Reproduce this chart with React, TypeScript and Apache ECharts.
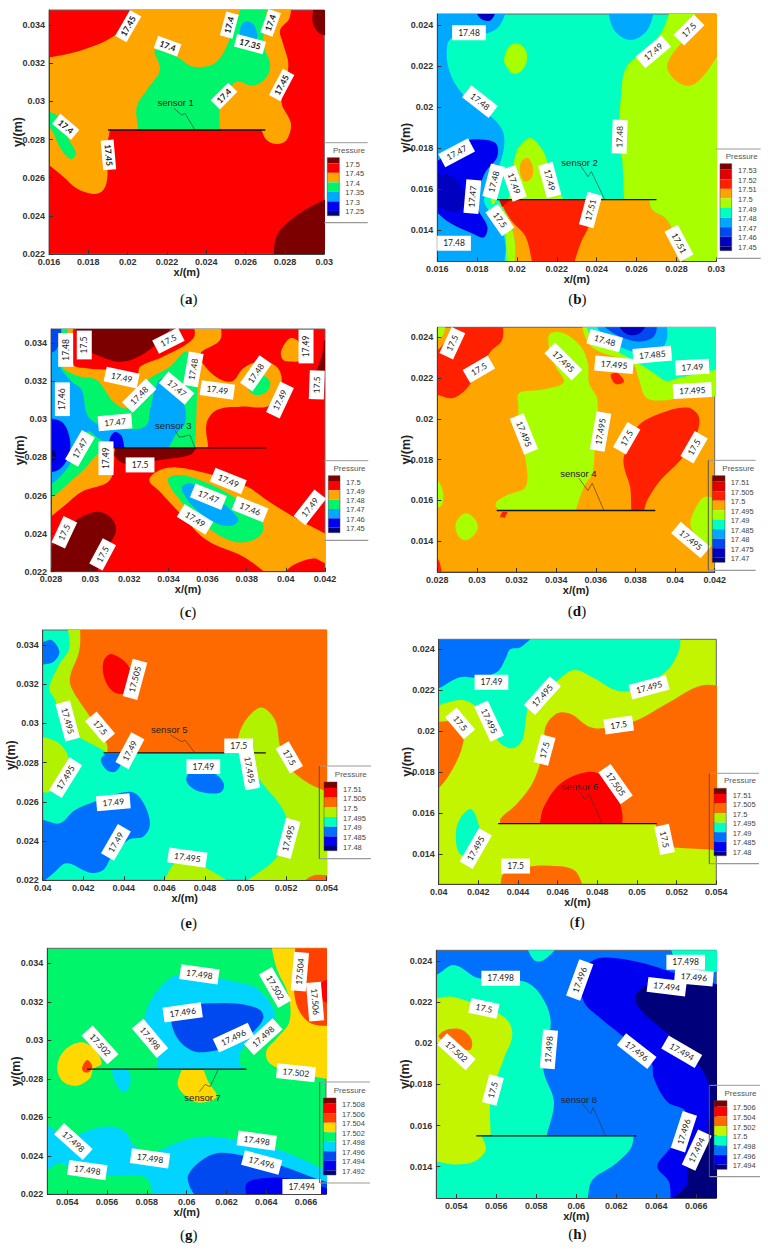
import React, { useEffect, useRef } from "react";
import * as echarts from "echarts";

// ---------- contour levels (colours by name) ----------
const COLORS: Record<string, string> = {
  dr: "#7d0000", d2: "#e00000", red: "#ff0000", rd2: "#ff2000", or: "#ffa500", or2: "#ff6a00", rd3: "#ff4000",
  yel: "#ffd800", lime: "#a8ff00", lim2: "#b0f200", lim3: "#c4f500", grn: "#00f56a", aq: "#00ffc0", cy: "#00d4ff",
  sky: "#00a8ff", bl2: "#0070ff", bl3: "#0048f0", blue: "#0000f0", dk: "#0000c0", navy: "#00007a",
};

// ---------- data: every vertex is [x mm, y mm, sharp-corner flag] ----------
const regionsA: any[] = [
  ["dr", [[27.4,21.5,1],[27.6,23.0],[28.7,24.1],[30.5,25.1,1],[30.5,21.5,1]]],
  ["dr", [[29.5,35.2,1],[29.4,34.2],[29.7,33.6],[30.3,33.4,1],[30.3,35.2,1]]],
  ["or", [[20.3,35.3,1],[28.34,35.3,1],[28.22,34.35],[27.75,33.74],[27.9,33.04],[28.17,31.99],[28.0,30.77],[27.83,29.9],[28.3,28.85],[28.08,27.97],[27.58,27.76],[27.07,27.97],[26.8,28.5,1],[19.1,28.5,1],[18.93,27.45],[18.97,26.05],[18.76,25.35],[18.25,25.14],[17.4,25.44],[16.73,26.05],[16,26.66],[15.5,27.1,1],[15.5,32.2,1],[16,32.3],[17.4,32.6],[19.1,33.3],[19.95,34.09]]],
  ["grn", [[21.39,32.69],[21.64,31.64],[20.97,30.59],[20.46,29.72],[20.54,28.5,1],[24.69,28.5,1],[24.69,29.72],[25.03,30.42],[25.54,31.03],[26.39,30.82],[27.07,31.29],[27.24,31.99],[26.9,33.04],[27.15,35.3,1],[25.88,35.3,1],[25.37,33.74],[24.53,32.08],[23.34,31.82],[22.49,32.34]]],
  ["sky", [[25.71,33.74],[25.88,34.12],[26.19,34.17],[26.47,33.91],[26.56,33.3],[25.75,33.3]]],
  ["grn", [[15.6,29.5,1],[16,29.46],[16.47,29.2],[16.98,28.06],[17.37,27.27],[17.1,26.98],[16.64,27.45],[16,28.67],[15.6,28.5,1]]],
];
const labelsA: any[] = [
  [20.03,33.95,"17.45",60],[22.03,32.9,"17.4",-20],[25.17,34.0,"17.4",75],[27.27,34.12,"17.4",70],[26.22,33.0,"17.35",-15],
  [27.83,30.86,"17.45",62],[24.9,30.28,"17.4",45],[16.85,28.67,"17.4",-40],[19.02,27.19,"17.45",-85],
];
const regionsB: any[] = [
  ["sky", [[19.6,25,1],[19.01,23.84],[18.0,23.51],[16.84,23.43],[16.5,23.03],[16.59,21.81],[17.25,20.67],[18.51,19.7],[19.26,18.89],[19.35,18.07],[19.09,17.1],[18.68,15.96],[18.34,15.48],[18.68,14.83],[19.18,14.18],[19.43,13.2],[19.35,12.4,1],[15.5,12.4,1],[15.5,25,1]]],
  ["sky", [[24.5,25,1],[24.87,23.76],[25.7,23.27],[26.54,23.76],[26.96,25,1]]],
  ["dk", [[17.76,25,1],[18.17,24.32],[18.68,24.24],[19.09,25,1]]],
  ["blue", [[16.42,17.67],[17.34,18.32],[18.17,18.43],[18.93,18.24],[19.01,17.59],[18.43,16.86],[18.09,15.96],[18.0,15.15],[18.51,14.18],[18.34,13.66],[17.76,13.85],[16.67,14.34],[15.83,15,1],[15.83,17.26,1]]],
  ["dk", [[15.8,16.8,1],[16.8,16.6],[17.4,15.6],[17.0,14.9],[15.8,15.2,1]]],
  ["lime", [[20.63,18.5],[20.01,17.91],[19.76,16.61],[19.76,16.13],[19.55,15.5,1],[22.36,15.5,1],[21.77,16.45],[21.44,17.59],[21.1,18.16]]],
  ["or", [[20.52,17.54],[20.77,17.18],[20.77,16.61],[20.43,16.37],[20.18,16.71],[20.18,17.28]]],
  ["lime", [[19.35,22.38],[19.6,22.94],[20.01,23.11],[20.43,22.78],[20.48,22.21],[20.18,21.73],[19.76,21.65],[19.43,22.05]]],
  ["lime", [[27.79,25,1],[27.21,23.59],[26.2,22.62],[25.45,21.89],[25.23,20.67],[25.12,18.72],[25.28,17.43],[25.37,15.5,1],[26.62,15.5,1],[26.79,14.99],[27.46,14.58],[27.87,13.85],[28.46,12.4,1],[30.5,12.4,1],[30.5,25,1]]],
  ["or", [[29.13,25,1],[28.46,23.43],[27.71,22.46],[27.54,21.89],[28.04,21.24],[28.71,21.05],[29.38,21.56],[30.05,22.46],[30.5,23,1],[30.5,25,1]]],
  ["lime", [[19.0,15.5,1],[19.26,14.83],[19.43,13.85],[19.48,12.4,1],[19.95,12.4,1],[19.88,13.53],[19.6,14.5],[19.3,15.0]]],
  ["or", [[19.09,15.5,1],[26.62,15.5,1],[26.79,14.99],[27.46,14.58],[27.87,13.85],[28.46,12.4,1],[19.9,12.4,1],[19.88,13.53],[19.6,14.5]]],
  ["rd2", [[19.21,15.5,1],[23.39,15.5,1],[23.69,14.5],[23.19,13.37],[22.86,12.4,1],[20.77,12.4,1],[20.43,13.69],[19.76,14.42],[19.34,15.07]]],
  ["d2", [[19.09,15.5,1],[19.68,15.5,1],[19.26,15.14,1]]],
  ["aq", [[18.6,15.5],[18.8,15.85],[19.0,15.7],[19.0,15.1],[18.75,15.05]]],
  ["lime", [[18.68,15.45],[18.8,15.6],[18.92,15.45],[18.8,15.25]]],
];
const labelsB: any[] = [
  [17.59,23.63,"17.48",0],[18.14,20.27,"17.48",-38],[16.97,17.78,"17.47",28],[18.84,16.37,"17.48",75],[19.85,16.29,"17.49",-70],
  [21.64,16.45,"17.49",-75],[17.76,15.64,"17.47",85],[19.14,14.5,"17.5",-55],[16.84,13.37,"17.48",0],[23.69,14.99,"17.51",75],
  [25.15,18.56,"17.48",88],[26.84,22.7,"17.49",40],[28.63,23.76,"17.5",45],[28.13,13.37,"17.51",-62],
];
const regionsC: any[] = [
  ["or", [[27.5,24.5,1],[28.63,25.42],[29.57,26.2],[31.01,26.82],[31.27,28.5,1],[36.04,28.5,1],[35.95,29.8],[36.47,30.5],[37.66,30.67],[39.02,30.67],[39.53,31.2],[39.79,32.07],[39.53,32.77],[38.68,33.04],[37.83,32.69],[37.23,31.99],[36.3,32.34],[35.61,33.39],[36.64,34.18],[36.64,35.2,1],[35.27,35.2,1],[35.27,34.26],[33.74,33.3],[32.55,32.77],[32.38,32.34],[31.01,32.6],[29.82,32.69],[29.14,32.9],[29.14,35.2,1],[27.5,35.2,1]]],
  ["grn", [[28.89,35.2,1],[28.72,33.12],[28.63,32.69],[29.48,32.25],[30.33,32.07],[31.19,30.93],[31.87,30.58],[32.38,31.37],[33.06,32.16],[34.08,32.77],[34.93,33.56],[35.44,32.42],[35.44,30.67],[35.36,28.5,1],[30.93,28.5,1],[30.42,28.22],[29.74,27.43],[28.89,26.64],[27.95,25.85],[27.5,25.8,1],[27.5,35.2,1]]],
  ["sky", [[28.55,35.2,1],[28.46,32.86],[29.06,31.99],[29.57,31.55],[29.86,30.23],[30.5,29.71],[32.21,29.48],[32.89,29.71],[33.06,30.5],[33.31,31.55],[33.65,32.16],[34.25,31.72],[34.81,30.76],[34.85,29.8],[34.42,29.27],[34,28.5,1],[31.27,28.5,1],[30.84,28.75],[30.42,29.01],[29.86,29.36],[29.31,28.31],[28.8,27.38],[27.95,26.55],[27.5,26.5,1],[27.5,35.2,1]]],
  ["blue", [[27.5,30.1,1],[28,30.06],[28.63,29.8],[28.97,28.92],[28.89,28.04],[28.37,27.34],[27.5,27.2,1]]],
  ["navy", [[27.5,28.7,1],[28.2,28.3],[28.2,27.9],[27.5,27.5,1]]],
  ["blue", [[30.98,28.5,1],[31.01,29.01],[31.27,29.34],[31.61,29.13],[31.75,28.5,1]]],
  ["bl3", [[27.5,35.2,1],[28.5,35.2,1],[28.5,34.3],[28.2,33.6],[27.5,33.5,1]]],
  ["dr", [[29.23,35.2,1],[34.49,35.2,1],[33.14,33.74],[31.7,33.04],[30.33,33.39],[29.48,33.91]]],
  ["dr", [[31.27,28.5,1],[35.44,28.5,1],[35.1,28.13],[33.57,27.87],[31.87,27.66],[31.27,28.04]]],
  ["dr", [[27.95,23.28],[29.06,24.54],[30.33,25.15],[31.1,24.8],[31.32,24.1],[30.67,22.96],[30.33,21.9,1],[27.5,21.9,1],[27.5,23.2,1]]],
  ["dr", [[41.52,32.42,1],[41.85,33.4],[42.0,34.2],[42.5,34.3,1],[42.5,32.4,1]]],
  ["or", [[33.02,26.82],[33.57,27.34],[34.42,27.48],[35.95,27.17],[38.0,26.47],[39.02,25.77],[40.38,24.89],[42,24.01],[42.5,23.7,1],[42.5,22.3,1],[42,22.44],[41.4,22.7],[40.38,22.35],[39.87,21.9,1],[39.02,21.9,1],[37.83,22.79],[35.95,23.66],[34.59,25.07],[33.57,26.2]]],
  ["grn", [[33.96,26.82],[34.42,27.08],[35.61,26.82],[37.32,25.94],[38.68,24.8],[38.85,24.19],[38.34,23.66],[37.32,23.58],[35.95,24.37],[34.59,25.77]]],
  ["sky", [[34.68,26.38],[35.11,26.64],[35.95,26.2],[36.98,25.42],[37.57,24.72],[37.15,24.4],[36.3,24.63],[35.27,25.42]]],
  ["or", [[39.75,33.56],[40.21,34.26],[40.64,34.08],[40.72,33.12],[40.21,33.04],[39.87,33.12]]],
  ["grn", [[38.68,32.34],[39.19,31.99],[39.02,31.46],[38.42,31.29],[38.08,31.64]]],
];
const labelsC: any[] = [
  [28.75,33.65,"17.48",90],[29.7,33.91,"17.5",90],[34,34.14,"17.5",27],[31.61,32.2,"17.49",-12],[32.51,31.25,"17.48",45],
  [34.42,31.64,"17.47",-40],[35.27,32.63,"17.48",80],[36.5,31.55,"17.49",-8],[38.47,32.42,"17.48",55],[39.7,31.02,"17.49",65],
  [41.03,33.83,"17.49",90],[41.58,31.81,"17.5",88],[28.58,31.06,"17.46",90],[31.27,29.85,"17.47",5],[29.48,28.48,"17.47",60],
  [30.81,27.96,"17.49",90],[32.55,27.61,"17.5",0],[37.06,26.77,"17.49",-22],[36.04,25.94,"17.47",-22],[38.17,25.29,"17.46",-22],
  [35.36,24.75,"17.49",-32],[41.23,25.38,"17.49",52],[28.68,24.07,"17.5",65],[30.64,22.91,"17.5",62],
];
const regionsD: any[] = [
  ["rd2", [[29.01,25,1],[31.28,25,1],[31.28,23.89],[30.69,23.31],[30.02,22.25],[29.43,21.43],[28.76,21.02],[28,21.18],[27.5,21.2,1],[27.5,23.5,1],[28,23.39],[28.5,23.97]]],
  ["lime", [[32.12,21.26],[33.22,21.43],[34.39,21.79],[33.97,22.57],[33.64,23.48],[33.69,24.18],[34.39,24.21],[35.24,23.56],[35.6,22.74],[35.66,21.75],[36.08,20.93],[35.94,18.48],[35.83,17.33],[35.4,16.67],[34.98,15.5,1],[31.11,15.5,1],[30.94,15.85],[31.53,16.26],[32.46,16.67],[32.46,17.98],[32.12,19.62],[32.09,20.61]]],
  ["lime", [[35.2,25,1],[35.57,23.8],[36.16,23.31],[37.84,22.74],[38.18,21.92],[38.52,21.07],[39.27,20.9],[40.45,21.07],[42.5,21.1,1],[42.5,25,1]]],
  ["aq", [[35.4,25,1],[35.82,23.97],[37.09,23.31],[38.26,22.66],[38.94,22.25],[39.53,21.87],[40.12,22.0],[42.5,22.5,1],[42.5,25,1]]],
  ["sky", [[35.82,25,1],[36.41,24.05],[37.84,23.31],[39.02,23.23],[39.58,23.89],[39.53,25,1]]],
  ["bl3", [[36,25,1],[36.6,24.4],[37.4,23.97],[38.2,23.8],[38.88,24],[39.07,24.4],[39,25,1]]],
  ["dk", [[36.9,25,1],[37.5,24.2],[38.2,24.2],[38.8,25,1]]],
  ["rd2", [[37.42,18.15],[38.1,19.62],[39.27,20.28],[40.62,20.56],[41.2,20.11],[41.04,19.13],[40.28,17.98],[39.27,17],[38.6,16.02],[38.43,15.5,1],[37.79,15.5,1],[37.73,16.67],[37.46,17.49]]],
  ["rd2", [[36.75,22.16],[37.08,22.25],[37.42,21.84],[37,21.72]]],
  ["rd2", [[31.16,15.2,1],[31.28,15.44,1],[31.56,15.44,1],[31.4,15.15,1]]],
  ["rd2", [[27.5,13.1,1],[28,13.15],[28.25,12.4,1],[27.5,12.4,1]]],
  ["lime", [[27.5,17,1],[28,17],[28.3,16.3],[28.15,15.7],[27.5,15.7,1]]],
  ["lime", [[29.43,15.36],[29.93,15.03],[30.02,14.54],[29.51,14.05],[29.09,14.21],[28.93,14.87]]],
  ["lime", [[40.79,15.03],[41.29,16.02],[41.71,16.18],[42.5,15.7,1],[42.5,13.6,1],[41.46,13.89],[40.87,14.54]]],
  ["lime", [[27.5,25,1],[28.5,25,1],[28.2,24],[27.5,23.9,1]]],
];
const labelsD: any[] = [
  [28.76,23.72,"17.5",65],[30.1,22.44,"17.5",30],[34.36,22.82,"17.495",-45],[36.45,23.85,"17.48",-15],[36.92,22.66,"17.495",-5],
  [38.85,23.15,"17.485",5],[40.87,22.54,"17.49",3],[40.87,21.39,"17.495",3],[32.37,19.26,"17.495",-68],[36.24,19.38,"17.495",80],
  [37.56,19.05,"17.5",60],[40.96,18.61,"17.5",60],[40.79,14.05,"17.495",-40],
];
const regionsE: any[] = [
  ["lim2", [[41.18,35.2,1],[54.5,35.2,1],[54.5,21.9,1],[49.97,21.9,1],[51.62,23.29],[52.03,25.16],[50.71,27.12],[49.81,28.5,1],[43.19,28.5,1],[42.83,28.73],[41.76,29.33],[41.02,30.0],[40.61,31.2],[40.33,31.79],[40.85,33.07],[41.31,33.83]]],
  ["lim2", [[39.5,29.41,1],[40.69,29.07],[41.27,28.22],[40.77,27.12],[40.36,26.52],[39.5,26.55,1]]],
  ["lim2", [[45.95,21.9,1],[46.44,22.78],[47.1,23.07],[48.08,22.61],[49.23,21.9,1]]],
  ["or2", [[41.84,35.2,1],[54.5,35.2,1],[54.5,26.3,1],[54,26.52],[52.85,27.12],[51.86,28.14],[51.67,28.99],[51.45,30.18],[50.8,30.82],[50.14,30.35],[49.69,29.5],[49.6,28.5,1],[43.19,28.5,1],[43.15,28.99],[42.33,30.35],[41.43,31.79],[41.35,32.39],[41.81,33.75]]],
  ["or2", [[52.77,21.9,1],[53.42,22.27],[54.5,22.2,1],[54.5,21.9,1]]],
  ["red", [[42.99,33.15],[43.4,33.54],[44.3,32.81],[44.22,31.62],[43.57,31.57],[43.07,32.22]]],
  ["bl2", [[39.5,34.2,1],[40,34.17],[40.44,34.26],[40.82,33.66],[40.53,33.15],[40,33.01],[39.5,33,1]]],
  ["bl2", [[42.86,28.14],[43.07,28.44,1],[44.0,28.44,1],[43.89,27.97],[43.57,27.54],[43.15,27.63]]],
  ["bl2", [[47.1,27.29],[47.59,27.8],[48.58,27.37],[48.94,26.86],[48.74,26.47],[47.76,26.52],[47.18,26.88]]],
  ["bl2", [[39.5,25.08,1],[40,25.08],[40.85,24.91],[41.59,25.59],[42.66,26.05],[44.3,26.52],[44.88,26.1],[45.29,24.91],[44.96,24.23],[44.22,24.06],[43.4,23.21],[42.99,22.53],[42.33,22.39],[41.18,22.87],[40.53,22.36],[40,21.9,1],[39.5,21.9,1]]],
];
const labelsE: any[] = [
  [44.55,32.25,"17.505",75],[41.23,30.13,"17.495",-75],[42.83,29.8,"17.5",-50],[44.3,28.61,"17.49",62],[41.13,27.24,"17.495",58],
  [49.66,28.85,"17.5",0],[50.19,27.63,"17.495",-80],[52.16,28.27,"17.5",-60],[47.92,27.8,"17.49",0],[43.48,25.98,"17.49",5],
  [43.61,23.94,"17.49",60],[47.13,23.16,"17.495",-8],[52.11,24.14,"17.495",75],
];
const regionsF: any[] = [
  ["aq", [[39.5,21.1,1],[41.03,21.53],[41.78,21.28],[42.62,20.07],[43.13,19.41],[43.71,19.17],[44.22,19.58],[44.39,20.55],[44.64,21.53],[45.82,22.34],[46.82,22.99],[47.83,22.59],[49.01,21.98],[50.18,22.1],[51.53,22.99],[52.12,23.97],[52.2,25,1],[39.5,25,1]]],
  ["bl2", [[39.5,22.0,1],[40,22.1],[41.03,22.63],[41.95,22.63],[42.96,22.91],[43.38,23.56],[43.6,24],[44.13,24.1],[45.14,25,1],[39.5,25,1]]],
  ["aq", [[40.86,14.86],[41.03,15.67],[41.61,16.21],[41.95,15.67],[42.03,15.05],[41.36,13.97],[41.03,14.05]]],
  ["or2", [[43.09,15.5,1],[43.13,15.76],[43.97,16.49],[44.81,17.63],[45.31,19.25],[45.39,20.23],[45.98,20.88],[46.66,20.85],[47.66,20.2],[48.67,20.2],[50.02,20.55],[51.53,21.37],[53.21,22.23],[54.5,22.2,1],[54.5,14.0,1],[54,14.2],[51.87,14.34],[51.11,14.46],[50.94,15.5,1]]],
  ["or2", [[39.5,20.5,1],[40,20.47],[41.03,20.47],[41.28,19.74],[40.86,18.44],[40,17.22],[39.5,17.1,1]]],
  ["or2", [[43.09,12.4,1],[43.29,13.07],[44.3,13.37],[45.65,13.45],[46.82,13.24],[47.33,12.4,1]]],
  ["red", [[45.09,15.5,1],[45.31,16.33],[46.15,17.46],[47.5,18.02],[48.34,17.79],[49.01,16.81],[49.26,16],[49.26,15.5,1]]],
];
const labelsF: any[] = [
  [42.66,22.39,"17.49",0],[45.23,21.74,"17.495",48],[50.61,22.15,"17.495",15],[41.08,20.39,"17.5",-50],[42.54,20.5,"17.495",-65],
  [49.08,20.31,"17.5",8],[45.34,19.09,"17.5",75],[48.92,17.43,"17.505",-55],[51.39,14.73,"17.5",-78],[41.87,14.29,"17.495",60],[43.88,13.43,"17.5",0],
];
const regionsG: any[] = [
  ["cy", [[57.91,31.32],[58.49,32.53],[59.5,33.39],[61.01,33.31],[62.35,33.05],[63.52,32.7],[64.39,31.58],[64.27,30.8],[63.52,30.28],[62.71,29.41],[62.65,28.81],[62.93,28.5,1],[58.49,28.5,1],[58.49,29.32],[57.99,30.36]]],
  ["bl3", [[59.28,31.4],[60,31.75],[61.01,31.92],[62.68,31.89],[63.69,31.58],[63.85,31.14],[63.35,30.45],[62.35,29.76],[60.67,29.38],[59.83,29.76],[59.33,30.53]]],
  ["yel", [[64.19,35.2,1],[64.52,33.74],[65.11,32.35],[65.16,30.97],[64.52,30.1],[64.02,29.5],[64.1,28.89],[64.86,28.46],[67.5,27.9,1],[67.5,35.2,1]]],
  ["rd3", [[65.49,35.2,1],[67.5,35.2,1],[67.5,30.75,1],[66.36,30.83],[65.78,31.32],[65.44,32.18],[65.39,33.74]]],
  ["red", [[66.8,33.0],[67.5,33.2,1],[67.5,32.1,1],[66.9,32.0]]],
  ["yel", [[53.5,28.55],[53.8,29.41],[54.64,29.9],[55.31,29.6],[55.73,28.81],[55.31,28.5],[55.14,28.03],[54.47,27.64],[53.8,27.85]]],
  ["rd3", [[54.76,28.63],[55.01,28.98],[55.26,28.63],[55.06,28.34],[54.81,28.38]]],
  ["cy", [[56.23,28.46,1],[57.07,28.46,1],[57.19,27.85],[56.9,27.3],[56.48,27.67]]],
  ["yel", [[59.75,28.5,1],[60.84,28.5,1],[61.09,27.85],[61.51,27.07],[60.67,26.76],[60,27.07],[59.55,27.68]]],
  ["cy", [[52.5,25.7,1],[53,25.6],[53.97,24.91],[55.14,25.34],[56.15,25.52],[56.9,25.26],[57.4,24.48],[58.33,24.2],[59.67,24.74],[61,25],[62.85,24.74],[64.86,24.22],[67.5,23.0,1],[67.5,21.9,1],[58.33,21.9,1],[57.99,22.83],[56.99,23],[54.81,23],[53.64,23.61],[53,23.26],[52.5,23.1,1]]],
  ["bl3", [[60.08,23],[60.67,23.7],[61.51,24.13],[62.68,24.04],[64.86,23.44],[66.45,22.83],[67.5,22.5,1],[67.5,21.9,1],[60.42,21.9,1],[60.13,22.48]]],
  ["blue", [[62.98,21.9,1],[63.02,22.57],[63.85,22.83],[65.03,22.83],[67.5,22.2,1],[67.5,21.9,1]]],
];
const labelsG: any[] = [
  [60.64,33.43,"17.498",-8],[64.44,32.74,"17.502",-60],[65.69,33.57,"17.504",85],[66.45,32.01,"17.506",-85],[59.8,31.45,"17.496",8],
  [58.16,30.1,"17.498",-50],[62.35,30.14,"17.496",25],[63.85,30.19,"17.498",42],[55.65,29.76,"17.502",-48],[65.49,28.32,"17.502",-6],
  [54.31,24.74,"17.498",-42],[55.01,23.26,"17.498",-8],[58.16,23.87,"17.498",-8],[63.52,24.79,"17.498",-8],[63.77,23.65,"17.496",-15],[65.78,22.4,"17.494",0],
];
const regionsH: any[] = [
  ["aq", [[52.5,23.2,1],[53,23.32],[53.88,23.81],[55.13,23.16],[57.38,23],[58.22,22.35],[58.72,21.05],[58.35,18.78],[58.88,17.16],[58.52,15.5,1],[62.88,15.5,1],[62.72,14.89],[61.88,14.08],[60.8,13.35],[60.55,12.4,1],[52.5,12.4,1]]],
  ["aq", [[57.38,25,1],[57.88,24.05],[58.38,24.05],[59.38,25,1]]],
  ["aq", [[64.63,25,1],[67.5,25,1],[67.5,23.5,1],[66.4,23.5],[65.5,23.9],[64.9,24.2]]],
  ["lim3", [[52.5,22.1,1],[53,22.18],[53.72,22.27],[55.05,21.86],[56.47,21.21],[56.8,20.4],[56.38,19.27],[55.72,17.32],[55.72,15.5,1],[55.27,15.5,1],[55.47,14.81],[54.88,14.24],[53.88,14.11],[53,14.24],[52.5,14.2,1]]],
  ["or2", [[53.13,20.4],[53.63,20.69],[54.3,20.65],[54.77,20.16],[54.68,19.67],[53.97,19.9],[53.22,20.2]]],
  ["blue", [[60.22,23.4],[60.88,24.05],[61.72,24.16],[63.38,23.89],[64.72,23.48],[67.5,22.75,1],[67.5,12.4,1],[64.72,12.4,1],[64.63,13.27],[64.05,14],[64.55,14.73],[65.22,15.38],[65.47,16.67],[64.55,17.16],[63.88,18.29],[63.72,19.1],[62.05,20.56],[61.22,21.21],[60.38,22.02]]],
  ["navy", [[62.97,22.35],[63.55,22.83],[64.72,23.08],[67.5,22.75,1],[67.5,12.4,1],[64.8,12.4,1],[65.55,13.19],[65.58,14.08],[66.38,14.89],[66.63,16.5],[66.63,17.97],[65.97,19.1],[64.55,20.48],[63.55,21.29],[63.05,21.86]]],
];
const labelsH: any[] = [
  [65.47,23.94,"17.498",0],[65.88,23.21,"17.496",-5],[64.52,22.75,"17.494",-7],[60.17,23.08,"17.496",70],[56.22,23.16,"17.498",0],
  [55.38,21.7,"17.5",-12],[54,19.59,"17.502",-42],[58.63,19.7,"17.498",85],[55.83,17.73,"17.5",75],[63.02,19.62,"17.496",-38],
  [65.27,19.59,"17.494",-30],[65.38,15.7,"17.496",72],[66.02,14.81,"17.494",65],
];

// sensor bars, leader lines and names
const sensorBars = [[[19,28.5],[27,28.5]],[[19,15.5],[27,15.5]],[[31,28.5],[39,28.5]],[[31,15.5],[39,15.5]],[[43,28.5],[51,28.5]],[[43,15.5],[51,15.5]],[[55,28.5],[63,28.5]],[[55,15.5],[63,15.5]]];
const leaders = [
  [[22.36,29.63],[22.75,29.28],[22.92,29.37],[23.42,28.5]],
  [[23.19,17.15],[23.56,16.61],[23.73,16.86],[24.4,15.5]],
  [[34.34,29.41],[34.56,29.06],[35.1,29.18],[35.36,28.5]],
  [[35.15,17.08],[35.6,16.48],[35.82,16.84],[36.41,15.5]],
  [[46.31,29.41],[46.85,29.07],[47.02,29.15],[47.51,28.5]],
  [[47.08,17.06],[47.38,16.68],[47.58,16.94],[48.25,15.5]],
  [[60.64,27.33],[60.93,27.71],[61.18,27.59],[61.59,28.5]],
  [[60.3,17.08],[60.72,16.56],[60.83,16.88],[61.47,15.5]],
];
const sensorNames = [[22.44,29.93,"sensor 1"],[23.14,17.31,"sensor 2"],[34.25,29.67,"sensor 3"],[35.12,17.33,"sensor 4"],[46.24,29.67,"sensor 5"],[47.13,17.33,"sensor 6"],[60.8,27.02,"sensor 7"],[60.13,17.29,"sensor 8"]];

// tick values
const yTicksTop = [0.022,0.024,0.026,0.028,0.03,0.032,0.034];
const yTicksBottom = [0.014,0.016,0.018,0.02,0.022,0.024];
const xTicks1 = [0.016,0.018,0.02,0.022,0.024,0.026,0.028,0.03];
const xTicks2 = [0.028,0.03,0.032,0.034,0.036,0.038,0.04,0.042];
const xTicks3 = [0.04,0.042,0.044,0.046,0.048,0.05,0.052,0.054];
const xTicks4 = [0.054,0.056,0.058,0.06,0.062,0.064,0.066];

// colour-bar labels and colours
const legendA = ["17.5","17.45","17.4","17.35","17.3","17.25"];
const legendB = ["17.53","17.52","17.51","17.5","17.49","17.48","17.47","17.46","17.45"];
const legendC = ["17.5","17.49","17.48","17.47","17.46","17.45"];
const legendD = ["17.51","17.505","17.5","17.495","17.49","17.485","17.48","17.475","17.47"];
const legendE = ["17.51","17.505","17.5","17.495","17.49","17.485","17.48"];
const legendG = ["17.508","17.506","17.504","17.502","17.498","17.496","17.494","17.492"];
const legendH = ["17.506","17.504","17.502","17.5","17.498","17.496","17.494"];
const swA = ["dr","red","or","grn","sky","blue","navy"];
const swB = ["dr","d2","rd2","or","lime","aq","sky","bl3","dk","navy"];
const swC = ["dr","red","or","grn","sky","blue","navy"];
const swE = ["dr","red","or2","lim2","aq","bl2","blue","navy"];
const swG = ["dr","red","rd3","yel","grn","cy","bl3","blue","navy"];
const swH = ["dr","red","or2","lim3","aq","bl2","blue","navy"];

// ---------- layout (page pixels) ----------
const panels: any[] = [
  { tag:"a", L:49, R:324.3, T:10, B:254, x:[0.016,0.03], y:[0.022,0.03479], xt:xTicks1, yt:yTicksTop, base:"red", reg:regionsA, lab:labelsA, bold:true,
    leg:{ bx:[324.3,367.7], by:[142.7,222.7], side:false, tx:349, ty:150.7, sx:[327.3,339.3], sy:[157.7,215.7], lx:345.3, ly:164.3, st:9.53, labels:legendA, sw:swA }, cap:[188.7,299] },
  { tag:"b", L:437.3, R:716.3, T:14, B:261.3, x:[0.016,0.03], y:[0.01249,0.02454], xt:xTicks1, yt:yTicksBottom, base:"aq", reg:regionsB, lab:labelsB,
    leg:{ bx:[715.7,760.7], by:[149,258.3], side:false, tx:741.7, ty:156.7, sx:[720,731.7], sy:[163.7,250.7], lx:738, ly:170.7, st:9.58, labels:legendB, sw:swB }, cap:[577.3,299] },
  { tag:"c", L:51, R:325, T:329, B:571.7, x:[0.028,0.042], y:[0.022,0.03475], xt:xTicks2, yt:yTicksTop, base:"red", reg:regionsC, lab:labelsC,
    leg:{ bx:[324.3,368.3], by:[460.7,540.3], side:false, tx:349.5, ty:468.7, sx:[328.3,340], sy:[475.7,532.7], lx:346, ly:482, st:9.33, labels:legendC, sw:swC }, cap:[188,611.7] },
  { tag:"d", L:437.3, R:714.7, T:327.3, B:572, x:[0.028,0.042], y:[0.01248,0.0245], xt:xTicks2, yt:yTicksBottom, base:"or", reg:regionsD, lab:labelsD,
    leg:{ bx:[708.3,755.7], by:[460.3,570.3], side:true, tx:738.3, ty:468.3, sx:[712.3,725], sy:[475.7,562.3], lx:730.7, ly:482.7, st:9.5, labels:legendD, sw:swB }, cap:[577,611] },
  { tag:"e", L:42.7, R:326.7, T:630, B:880.3, x:[0.04,0.054], y:[0.022,0.03477], xt:xTicks3, yt:yTicksTop, base:"aq", reg:regionsE, lab:labelsE,
    leg:{ bx:[319.3,371], by:[766,858.7], side:true, tx:350.8, ty:774, sx:[324,337], sy:[782,850.7], lx:343, ly:789, st:9.67, labels:legendE, sw:swE }, cap:[188.7,922.7] },
  { tag:"f", L:438.7, R:716.3, T:639.3, B:884.3, x:[0.04,0.054], y:[0.01254,0.02449], xt:xTicks3, yt:yTicksBottom, base:"lim3", reg:regionsF, lab:labelsF,
    leg:{ bx:[709.3,759], by:[773.3,863.7], side:true, tx:740, ty:780.7, sx:[714,726.3], sy:[788.3,855.7], lx:732.7, ly:795, st:9.55, labels:legendE, sw:swE }, cap:[577.3,921.7] },
  { tag:"g", L:47.3, R:326, T:948.3, B:1194.3, x:[0.053,0.067], y:[0.022,0.03478], xt:xTicks4, yt:yTicksTop, base:"grn", reg:regionsG, lab:labelsG,
    leg:{ bx:[319.7,370], by:[1082,1183], side:true, tx:349.7, ty:1090.3, sx:[323.3,336], sy:[1098,1175], lx:342, ly:1104.7, st:9.52, labels:legendG, sw:swG }, cap:[188.7,1235] },
  { tag:"h", L:436.3, R:716.3, T:950.3, B:1198, x:[0.053,0.067], y:[0.01248,0.02452], xt:xTicks4, yt:yTicksBottom, base:"bl2", reg:regionsH, lab:labelsH,
    leg:{ bx:[709.3,760], by:[1085.3,1176.7], side:true, tx:740.5, ty:1093, sx:[714,727], sy:[1100.7,1169.3], lx:732.7, ly:1107.7, st:9.67, labels:legendH, sw:swH }, cap:[577.3,1234] },
];

const mm = (v: number) => v / 1000;
const tickText = (v: number) => String(parseFloat(v.toFixed(3)));

function buildOption() {
  const grid: any[] = [], xAxis: any[] = [], yAxis: any[] = [], series: any[] = [], graphic: any[] = [];
  const axisCommon = {
    type: "value", z: 5, splitLine: { show: false }, nameLocation: "center", nameMoveOverlap: false,
    axisLine: { show: true, lineStyle: { color: "#444", width: 1 } },
    axisTick: { show: true, inside: true, length: 4, lineStyle: { color: "#333", width: 1 } },
    nameTextStyle: { fontFamily: "Liberation Sans", fontWeight: "bold", color: "#222" },
  };
  const labelStyle = { fontFamily: "Liberation Sans", fontSize: 9, fontWeight: "bold", color: "#333", showMinLabel: true, showMaxLabel: true, hideOverlap: false, formatter: tickText };
  panels.forEach((p, i) => {
    grid.push({ left: p.L, top: p.T, width: p.R - p.L, height: p.B - p.T, show: true, backgroundColor: COLORS[p.base], borderColor: "#666", borderWidth: 1 });
    xAxis.push({ ...axisCommon, gridIndex: i, min: p.x[0], max: p.x[1], name: "x/(m)", nameGap: 12,
      nameTextStyle: { ...axisCommon.nameTextStyle, fontSize: 11 },
      axisTick: { ...axisCommon.axisTick, customValues: p.xt },
      axisLabel: { ...labelStyle, margin: 3, customValues: p.xt } });
    yAxis.push({ ...axisCommon, gridIndex: i, min: p.y[0], max: p.y[1], name: "y/(m)", nameGap: 25,
      nameTextStyle: { ...axisCommon.nameTextStyle, fontSize: 12.5 },
      axisTick: { ...axisCommon.axisTick, customValues: p.yt },
      axisLabel: { ...labelStyle, margin: 4, customValues: p.yt } });
    const axes = { xAxisIndex: i, yAxisIndex: i, coordinateSystem: "cartesian2d" };
    series.push({
      ...axes, type: "custom", clip: true, z: 2, silent: true,
      data: p.reg.map((r: any, k: number) => [mm(r[1][0][0]), mm(r[1][0][1]), k]),
      encode: { x: 0, y: 1 },
      renderItem: (_: any, api: any) => {
        const r = p.reg[api.value(2)];
        const pts: number[][] = [];
        r[1].forEach((v: number[]) => {
          const c = api.coord([mm(v[0]), mm(v[1])]);
          pts.push(c);
          if (v[2]) pts.push(c);
        });
        return { type: "polygon", shape: { points: pts, smooth: 0.35 }, style: { fill: COLORS[r[0]], stroke: null } };
      },
    });
    series.push({ ...axes, type: "line", z: 4, silent: true, showSymbol: false, symbol: "none", clip: false,
      lineStyle: { color: "#111", width: 1.3 }, data: sensorBars[i].map((v) => [mm(v[0]), mm(v[1])]) });
    series.push({ ...axes, type: "line", z: 4, silent: true, showSymbol: false, symbol: "none", clip: false,
      lineStyle: { color: "#333", width: 0.6 }, data: leaders[i].map((v) => [mm(v[0]), mm(v[1])]) });
    series.push({
      ...axes, type: "custom", clip: false, z: 6, silent: true,
      data: p.lab.map((l: any, k: number) => [mm(l[0]), mm(l[1]), k]),
      encode: { x: 0, y: 1 },
      renderItem: (_: any, api: any) => {
        const l = p.lab[api.value(2)];
        const c = api.coord([mm(l[0]), mm(l[1])]);
        return { type: "text", x: c[0], y: c[1], rotation: (l[3] * Math.PI) / 180,
          style: { text: l[2], fontFamily: "Lato", fontSize: 8.5, fontWeight: p.bold ? "bold" : "normal", fill: "#222", align: "center", verticalAlign: "middle",
            backgroundColor: "#fff", padding: p.bold ? [2, 4] : [3, 6] } };
      },
    });
    const sn: any = sensorNames[i];
    series.push({
      ...axes, type: "custom", clip: false, z: 5, silent: true,
      data: [[mm(sn[0]), mm(sn[1]), 0]],
      encode: { x: 0, y: 1 },
      renderItem: (_: any, api: any) => {
        const c = api.coord([mm(sn[0]), mm(sn[1])]);
        return { type: "text", x: c[0], y: c[1], style: { text: sn[2], fontFamily: "Liberation Sans", fontSize: 9.5, fill: "#222", align: "center", verticalAlign: "middle" } };
      },
    });
    // colour bar
    const g = p.leg;
    const Z = 50;
    graphic.push({ type: "rect", z: Z, shape: { x: p.R + 1, y: g.by[0], width: g.bx[1] - p.R - 1, height: g.by[1] - g.by[0] }, style: { fill: "#fff" } });
    graphic.push({ type: "line", z: Z + 1, shape: { x1: g.bx[0], y1: g.by[0], x2: g.bx[1], y2: g.by[0] }, style: { stroke: "#999", lineWidth: 1 } });
    graphic.push({ type: "line", z: Z + 1, shape: { x1: g.bx[0], y1: g.by[1], x2: g.bx[1], y2: g.by[1] }, style: { stroke: "#999", lineWidth: 1.2 } });
    if (g.side) graphic.push({ type: "line", z: Z + 1, shape: { x1: g.bx[0], y1: g.by[0], x2: g.bx[0], y2: g.by[1] }, style: { stroke: "#555", lineWidth: 1 } });
    graphic.push({ type: "text", z: Z + 2, x: g.tx, y: g.ty, style: { text: "Pressure", fontFamily: "Liberation Sans", fontSize: 8, fill: "#555", align: "center", verticalAlign: "middle" } });
    const edges = [g.sy[0]];
    g.labels.forEach((_: string, k: number) => edges.push(g.ly + k * g.st - 1));
    edges.push(g.sy[1]);
    g.sw.forEach((c: string, k: number) => {
      graphic.push({ type: "rect", z: Z + 2, shape: { x: g.sx[0], y: edges[k], width: g.sx[1] - g.sx[0], height: edges[k + 1] - edges[k] }, style: { fill: COLORS[c] } });
    });
    graphic.push({ type: "rect", z: Z + 3, shape: { x: g.sx[0], y: g.sy[0], width: g.sx[1] - g.sx[0], height: g.sy[1] - g.sy[0] }, style: { fill: "none", stroke: "#444", lineWidth: 0.5 } });
    g.labels.forEach((t: string, k: number) => {
      graphic.push({ type: "text", z: Z + 2, x: g.lx, y: g.ly + k * g.st, style: { text: t, fontFamily: "Liberation Sans", fontSize: 7.5, fill: "#444", align: "left", verticalAlign: "middle" } });
    });
    // caption
    graphic.push({ type: "text", z: Z, x: p.cap[0], y: p.cap[1], style: {
      text: `{n|(}{b|${p.tag}}{n|)}`, align: "center", verticalAlign: "middle",
      rich: { n: { fontFamily: "Liberation Serif", fontSize: 15, fill: "#111" }, b: { fontFamily: "Liberation Serif", fontSize: 15, fontWeight: "bold", fill: "#111" } } } });
  });
  return { animation: false, backgroundColor: "#fff", grid, xAxis, yAxis, series, graphic: { z: 50, elements: graphic } };
}

export default function App() {
  const ref = useRef<HTMLDivElement>(null);
  useEffect(() => {
    const chart = echarts.init(ref.current!, undefined, { renderer: "svg" });
    chart.setOption(buildOption() as any);
    return () => chart.dispose();
  }, []);
  return <div ref={ref} style={{ position: "absolute", left: 0, top: 0, width: 768, height: 1249 }} />;
}
